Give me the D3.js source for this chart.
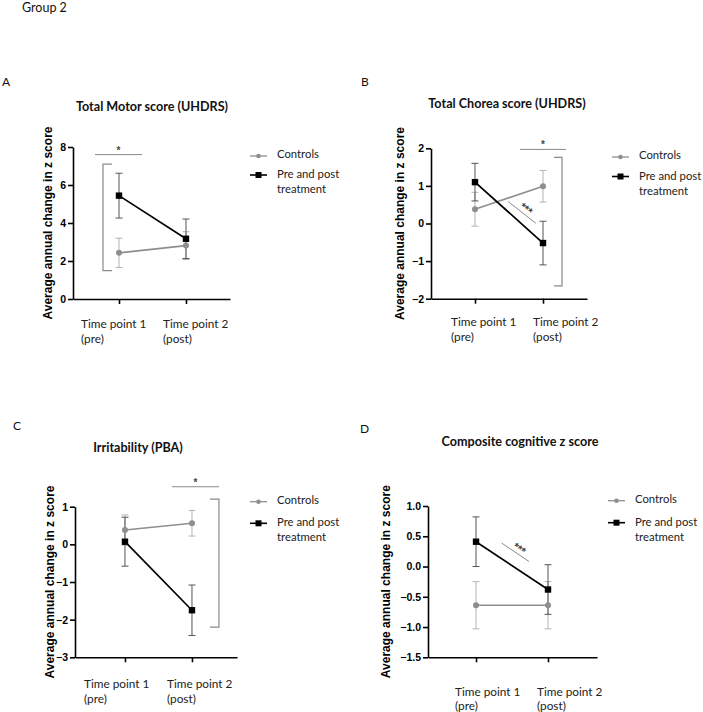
<!DOCTYPE html>
<html>
<head>
<meta charset="utf-8">
<script src="https://cdn.jsdelivr.net/npm/d3@7"></script>
<style>
  html, body { margin: 0; padding: 0; background: #fff; }
  svg { display: block; }
  .calibri { font-family: Lato, "Open Sans", sans-serif; }
  .arialb { font-family: "Liberation Sans", Arial, sans-serif; font-weight: bold; }
</style>
</head>
<body>
<script>
// ---------------- DATA ----------------
const categories = ["Time point 1", "Time point 2"];
const categorySub = ["(pre)", "(post)"];
const seriesNames = ["Controls", ["Pre and post", "treatment"]];
const figureHeader = "Group 2";
const panelLetters = ["A", "B", "C", "D"];
const panelTitles = ["Total Motor score (UHDRS)", "Total Chorea score (UHDRS)", "Irritability (PBA)", "Composite cognitive z score"];
const yAxisTitle = "Average annual change in z score";

// Panel A: Total Motor score
const motorControls = [2.43, 2.81];
const motorControlsSem = [0.77, 0.73];
const motorTreated = [5.44, 3.17];
const motorTreatedSem = [1.18, 1.04];
const motorTicks = [0, 2, 4, 6, 8];

// Panel B: Total Chorea score
const choreaControls = [0.38, 0.99];
const choreaControlsSem = [0.45, 0.42];
const choreaTreated = [1.10, -0.52];
const choreaTreatedSem = [0.50, 0.58];
const choreaTicks = [-2, -1, 0, 1, 2];

// Panel C: Irritability
const irritControls = [0.38, 0.56];
const irritControlsSem = [0.40, 0.34];
const irritTreated = [0.07, -1.75];
const irritTreatedSem = [0.65, 0.67];
const irritTicks = [-3, -2, -1, 0, 1];

// Panel D: Composite cognitive
const cogControls = [-0.64, -0.64];
const cogControlsSem = [0.39, 0.39];
const cogTreated = [0.41, -0.38];
const cogTreatedSem = [0.41, 0.41];
const cogTicks = [-1.5, -1.0, -0.5, 0.0, 0.5, 1.0];

// significance annotations
const sigStars = ["*", "*", "*", "***"];

// ---------------- LAYOUT ----------------
const W = 703, H = 712;
const svg = d3.select("body").append("svg").attr("width", W).attr("height", H);

svg.append("text").attr("class", "calibri").attr("x", 22).attr("y", 12)
  .attr("font-size", 12.5).attr("fill", "#111").text(figureHeader);

const panels = [
  { letter: 0, title: 0, ctrl: motorControls, ctrlSem: motorControlsSem, trt: motorTreated, trtSem: motorTreatedSem,
    ticks: motorTicks, domain: [0, 8], fmt: d3.format("d"),
    axisX: 73, xEnd: 230, yTop: 147, yBottom: 299, pad: 0.672, align: 0.511,
    letterPos: [2, 86], titlePos: [152, 111], yLabelX: 48,
    catX: [81, 163], catY: [328, 343], legend: [250, 156, 175],
    sigBar: { y: 7.6, x0: -24, x1: 23, idx: 0 },
    bracket: { x: -16, idx: 0, y0: 7.1, y1: 1.49, cap: 9 } },
  { letter: 1, title: 1, ctrl: choreaControls, ctrlSem: choreaControlsSem, trt: choreaTreated, trtSem: choreaTreatedSem,
    ticks: choreaTicks, domain: [-2, 2], fmt: d3.format("d"),
    axisX: 431, xEnd: 587, yTop: 148.3, yBottom: 298.7, pad: 0.647, align: 0.5,
    letterPos: [361, 86], titlePos: [507, 108], yLabelX: 400,
    catX: [451, 533], catY: [326, 341], legend: [612, 157, 176.5],
    sigBar: { y: 1.97, x0: -23, x1: 23, idx: 1 },
    bracket: { x: 19, idx: 1, y0: 1.76, y1: -1.66, cap: -8 },
    diag: { f0: 0.49, f1: 0.896, y0: 0.58, y1: 0.005, rot: 38 } },
  { letter: 2, title: 2, ctrl: irritControls, ctrlSem: irritControlsSem, trt: irritTreated, trtSem: irritTreatedSem,
    ticks: irritTicks, domain: [-3, 1], fmt: d3.format("d"),
    axisX: 75, xEnd: 237, yTop: 506.7, yBottom: 657.3, pad: 0.709, align: 0.526,
    letterPos: [13, 430], titlePos: [138, 452], yLabelX: 50,
    catX: [84, 167], catY: [688, 703], legend: [250, 501.7, 523.3],
    sigBar: { y: 1.53, x0: -20, x1: 27, idx: 1 },
    bracket: { x: 27, idx: 1, y0: 1.2, y1: -2.2, cap: -9 } },
  { letter: 3, title: 3, ctrl: cogControls, ctrlSem: cogControlsSem, trt: cogTreated, trtSem: cogTreatedSem,
    ticks: cogTicks, domain: [-1.5, 1.0], fmt: d3.format(".1f"),
    axisX: 428, xEnd: 597, yTop: 506, yBottom: 657.3, pad: 0.674, align: 0.495,
    letterPos: [360, 433], titlePos: [520, 446], yLabelX: 386,
    catX: [455, 537], catY: [696, 710], legend: [608, 500.7, 522.7],
    diag: { f0: 0.357, f1: 0.736, y0: 0.387, y1: 0.083, rot: 34 } }
];

const CTRL = "#8e8e8e", CTRL_ERR = "#b4b4b4", TRT = "#000", TRT_ERR = "#555", ANNOT = "#8a8a8a";

panels.forEach((p, pi) => {
  const g = svg.append("g");
  const y = d3.scaleLinear().domain(p.domain).range([p.yBottom, p.yTop]);
  const x = d3.scalePoint().domain(categories).range([p.axisX, p.xEnd]).padding(p.pad).align(p.align);

  // letter & title
  g.append("text").attr("class", "calibri").attr("x", p.letterPos[0]).attr("y", p.letterPos[1])
    .attr("font-size", 12).attr("fill", "#111").text(panelLetters[p.letter]);
  g.append("text").attr("class", "calibri").attr("x", p.titlePos[0]).attr("y", p.titlePos[1])
    .attr("text-anchor", "middle").attr("font-size", 12.6).attr("font-weight", "bold").attr("fill", "#111")
    .text(panelTitles[p.title]);

  // y axis
  const ya = g.append("g").attr("transform", `translate(${p.axisX},0)`)
    .call(d3.axisLeft(y).tickValues(p.ticks).tickFormat(p.fmt).tickSize(5).tickPadding(2).tickSizeOuter(0));
  ya.select(".domain").attr("stroke", "#000").attr("stroke-width", 1.6);
  ya.selectAll(".tick line").attr("stroke", "#000").attr("stroke-width", 1.6);
  ya.selectAll(".tick text").attr("class", "arialb").attr("font-size", 10.5).attr("fill", "#000");

  // x axis
  const xa = g.append("g").attr("transform", `translate(0,${p.yBottom})`)
    .call(d3.axisBottom(x).tickSize(5).tickSizeOuter(0).tickFormat(""));
  xa.select(".domain").attr("stroke", "#000").attr("stroke-width", 1.6);
  xa.selectAll(".tick line").attr("stroke", "#000").attr("stroke-width", 1.6);

  // category labels (two lines, left aligned)
  categories.forEach((c, i) => {
    const t = g.append("text").attr("class", "calibri").attr("font-size", 11.8).attr("fill", "#222");
    t.append("tspan").attr("x", p.catX[i]).attr("y", p.catY[0]).text(c);
    t.append("tspan").attr("x", p.catX[i]).attr("y", p.catY[1]).text(categorySub[i]);
  });

  // y axis title
  g.append("text").attr("class", "arialb").attr("font-size", 12).attr("fill", "#000")
    .attr("text-anchor", "middle")
    .attr("transform", `translate(${p.yLabelX},${(p.yTop + p.yBottom) / 2}) rotate(-90)`)
    .attr("dy", "0.35em").text(yAxisTitle);

  // error bars
  const errs = (vals, sems, color) => {
    const eg = g.append("g").attr("stroke", color).attr("stroke-width", 1).attr("fill", "none");
    vals.forEach((v, i) => {
      const cx = x(categories[i]);
      eg.append("line").attr("x1", cx).attr("x2", cx).attr("y1", y(v - sems[i])).attr("y2", y(v + sems[i]));
      [v - sems[i], v + sems[i]].forEach(e => {
        eg.append("line").attr("x1", cx - 3.5).attr("x2", cx + 3.5).attr("y1", y(e)).attr("y2", y(e));
      });
    });
  };
  errs(p.ctrl, p.ctrlSem, CTRL_ERR);
  errs(p.trt, p.trtSem, TRT_ERR);

  const line = d3.line().x((d, i) => x(categories[i])).y(d => y(d));
  g.append("path").datum(p.ctrl).attr("d", line).attr("fill", "none").attr("stroke", CTRL).attr("stroke-width", 1.6);
  g.append("path").datum(p.trt).attr("d", line).attr("fill", "none").attr("stroke", TRT).attr("stroke-width", 1.7);

  g.selectAll(".cdot").data(p.ctrl).enter().append("circle")
    .attr("cx", (d, i) => x(categories[i])).attr("cy", d => y(d)).attr("r", 3).attr("fill", CTRL);
  g.selectAll(".tsq").data(p.trt).enter().append("rect")
    .attr("x", (d, i) => x(categories[i]) - 3.2).attr("y", d => y(d) - 3.2)
    .attr("width", 6.4).attr("height", 6.4).attr("fill", TRT);

  // significance bar
  if (p.sigBar) {
    const cx = x(categories[p.sigBar.idx]);
    g.append("line").attr("x1", cx + p.sigBar.x0).attr("x2", cx + p.sigBar.x1)
      .attr("y1", y(p.sigBar.y)).attr("y2", y(p.sigBar.y)).attr("stroke", ANNOT).attr("stroke-width", 1);
    g.append("text").attr("class", "arialb").attr("x", cx + (p.sigBar.x0 + p.sigBar.x1) / 2).attr("y", y(p.sigBar.y) - 1)
      .attr("text-anchor", "middle").attr("font-size", 10).attr("font-weight", "normal").attr("fill", "#444").text(sigStars[pi]);
  }
  if (p.bracket) {
    const bx = x(categories[p.bracket.idx]) + p.bracket.x;
    const y0 = y(p.bracket.y0), y1 = y(p.bracket.y1);
    g.append("path").attr("d", `M${bx + p.bracket.cap},${y0}H${bx}V${y1}H${bx + p.bracket.cap}`)
      .attr("fill", "none").attr("stroke", ANNOT).attr("stroke-width", 1.2);
  }
  if (p.diag) {
    const x0 = x(categories[0]), x1 = x(categories[1]);
    const ax = x0 + (x1 - x0) * p.diag.f0, bx = x0 + (x1 - x0) * p.diag.f1;
    const ay = y(p.diag.y0), by = y(p.diag.y1);
    g.append("line").attr("x1", ax).attr("x2", bx).attr("y1", ay).attr("y2", by)
      .attr("stroke", ANNOT).attr("stroke-width", 1);
    const mx = (ax + bx) / 2 + 5, my = (ay + by) / 2 - 5;
    g.append("text").attr("class", "arialb").attr("font-size", 11).attr("font-weight", "normal").attr("fill", "#444")
      .attr("text-anchor", "middle")
      .attr("transform", `translate(${mx},${my}) rotate(${p.diag.rot})`).attr("dy", "0.5em").text("***");
  }

  // legend
  const [lx, ly1, ly2] = p.legend;
  const lg = g.append("g");
  lg.append("line").attr("x1", lx).attr("x2", lx + 17).attr("y1", ly1).attr("y2", ly1).attr("stroke", CTRL).attr("stroke-width", 1.3);
  lg.append("circle").attr("cx", lx + 8.5).attr("cy", ly1).attr("r", 2.3).attr("fill", CTRL);
  lg.append("line").attr("x1", lx).attr("x2", lx + 17).attr("y1", ly2).attr("y2", ly2).attr("stroke", TRT).attr("stroke-width", 1.6);
  lg.append("rect").attr("x", lx + 5.5).attr("y", ly2 - 3).attr("width", 6).attr("height", 6).attr("fill", TRT);
  lg.append("text").attr("class", "calibri").attr("x", lx + 27).attr("y", ly1 + 2).attr("font-size", 11.3).attr("fill", "#222")
    .text(seriesNames[0]);
  const t2 = lg.append("text").attr("class", "calibri").attr("font-size", 11.3).attr("fill", "#222");
  t2.append("tspan").attr("x", lx + 27).attr("y", ly2 + 3).text(seriesNames[1][0]);
  t2.append("tspan").attr("x", lx + 27).attr("y", ly2 + 18).text(seriesNames[1][1]);
});
</script>
</body>
</html>
